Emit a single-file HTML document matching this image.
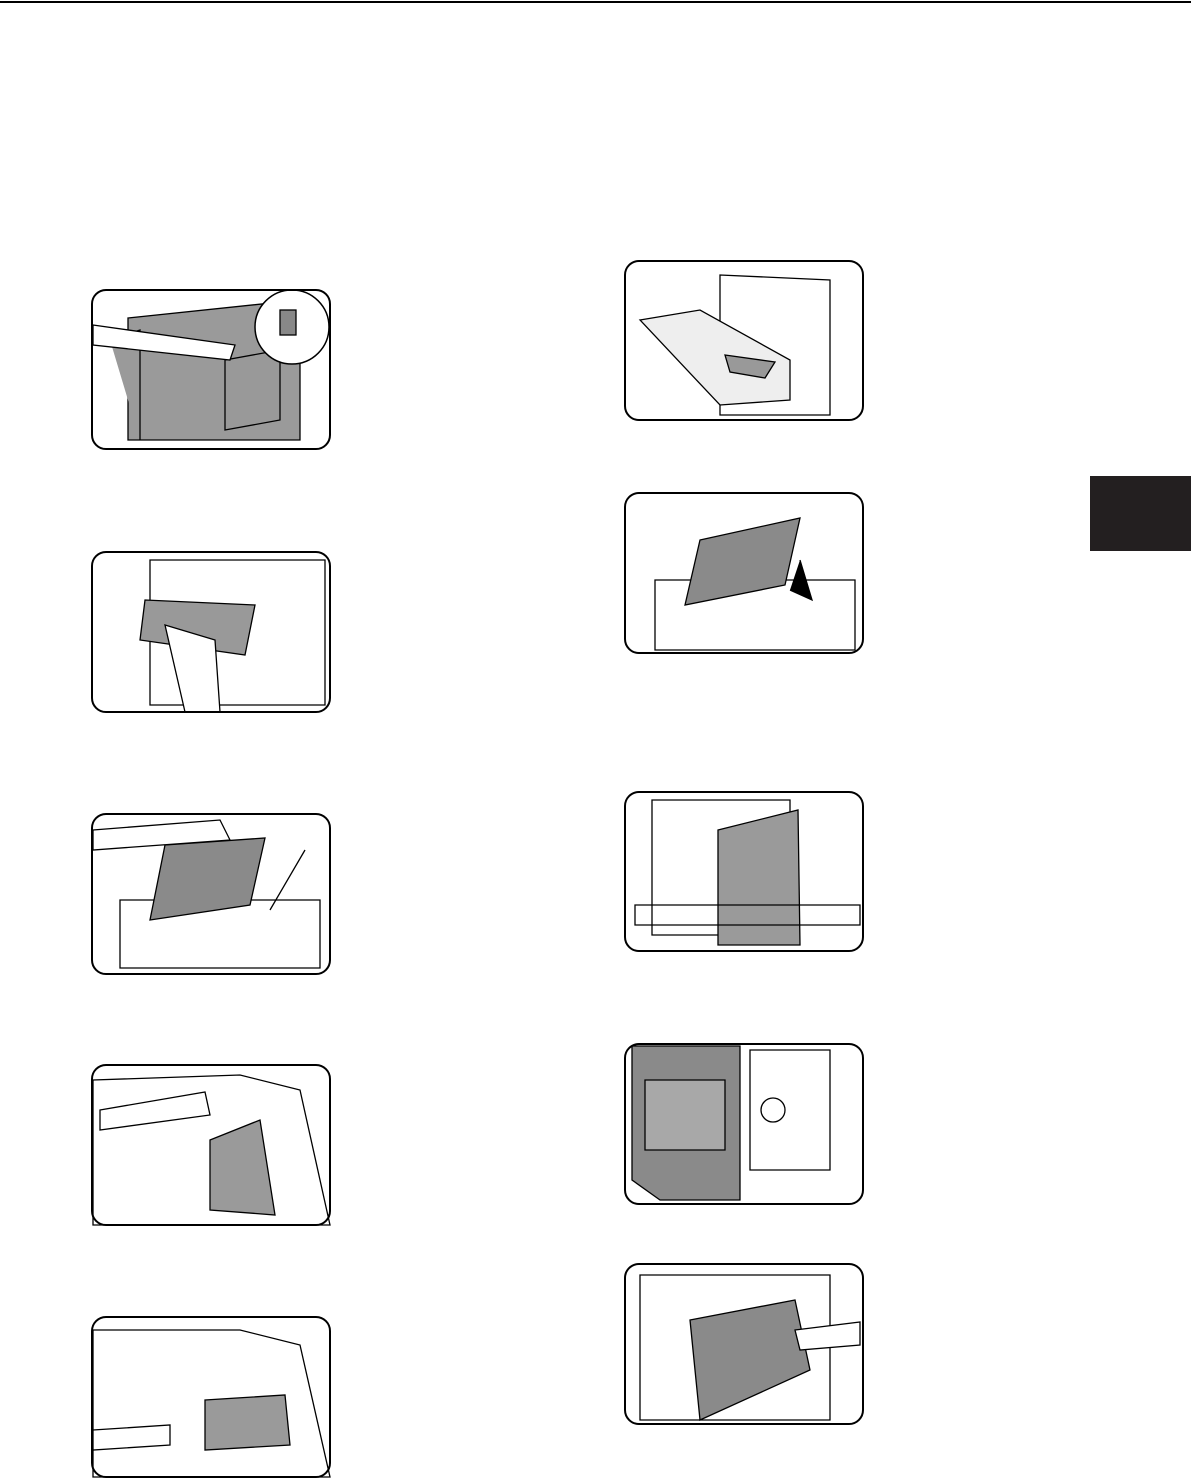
<!DOCTYPE html>
<html><head><meta charset="utf-8"><style>
html,body{margin:0;padding:0;background:#fff}
body{width:1191px;height:1479px;position:relative;overflow:hidden;font-family:"Liberation Sans",sans-serif}
</style></head><body>
<svg width="1191" height="1479" viewBox="0 0 1191 1479" xmlns="http://www.w3.org/2000/svg" style="position:absolute;left:0;top:0">
<line x1="0" y1="2" x2="1191" y2="2" stroke="#000" stroke-width="2"/>
<rect x="1090" y="476" width="101" height="75" fill="#231f20"/>
<g fill="none" stroke="#000" stroke-width="1.3">
<!-- L1 -->
<path d="M128 318 L300 300 L300 440 L128 440Z" fill="#9a9a9a"/>
<path d="M110 340 L140 330 L140 440" fill="#9a9a9a"/>
<path d="M225 360 L280 350 L280 420 L225 430Z" fill="#999"/>
<circle cx="292" cy="327" r="37" fill="#fff" stroke-width="1.5"/>
<rect x="280" y="310" width="16" height="25" fill="#888"/>
<path d="M93 325 L235 345 L230 360 L93 345Z" fill="#fff"/>
<!-- L2 -->
<path d="M150 560 L325 560 L325 705 L150 705Z"/>
<path d="M145 600 L255 605 L245 655 L140 640Z" fill="#999"/>
<path d="M165 625 L215 640 L220 712 L185 712Z" fill="#fff"/>
<!-- L3 -->
<path d="M120 900 L320 900 L320 968 L120 968Z"/>
<path d="M165 845 L265 838 L250 905 L150 920Z" fill="#8a8a8a"/>
<path d="M93 830 L220 820 L230 840 L93 850Z" fill="#fff"/>
<line x1="270" y1="910" x2="305" y2="850"/>
<!-- L4 -->
<path d="M93 1080 L240 1075 L300 1090 L330 1225 L93 1225Z"/>
<path d="M210 1140 L260 1120 L275 1215 L210 1210Z" fill="#9a9a9a"/>
<path d="M100 1110 L205 1092 L210 1115 L100 1130Z" fill="#fff"/>
<!-- L5 -->
<path d="M93 1330 L240 1330 L300 1345 L330 1477 L93 1477Z"/>
<path d="M205 1400 L285 1395 L290 1445 L205 1450Z" fill="#9a9a9a"/>
<path d="M93 1430 L170 1425 L170 1445 L93 1450Z" fill="#fff"/>
<!-- R1 -->
<path d="M720 275 L830 280 L830 415 L720 415Z"/>
<path d="M640 320 L700 310 L790 360 L790 400 L720 405Z" fill="#eee"/>
<path d="M725 355 L775 362 L765 378 L730 372Z" fill="#999"/>
<!-- R2 -->
<path d="M655 580 L855 580 L855 650 L655 650Z"/>
<path d="M700 540 L800 518 L785 585 L685 605Z" fill="#8a8a8a"/>
<path d="M800 560 L812 600 L790 590" fill="#000"/>
<!-- R3 -->
<path d="M652 800 L790 800 L790 935 L652 935Z"/>
<path d="M718 830 L798 810 L800 945 L718 945Z" fill="#9a9a9a"/>
<path d="M635 905 L860 905 L860 925 L635 925Z"/>
<!-- R4 -->
<path d="M632 1046 L740 1046 L740 1200 L660 1200 L632 1180Z" fill="#8a8a8a"/>
<path d="M645 1080 L725 1080 L725 1150 L645 1150Z" fill="#a8a8a8"/>
<path d="M750 1050 L830 1050 L830 1170 L750 1170Z"/>
<circle cx="773" cy="1110" r="12"/>
<!-- R5 -->
<path d="M640 1275 L830 1275 L830 1420 L640 1420Z"/>
<path d="M690 1320 L795 1300 L810 1370 L700 1420Z" fill="#8a8a8a"/>
<path d="M795 1330 L860 1322 L860 1345 L800 1350Z" fill="#fff"/>
</g>
<g fill="none" stroke="#000" stroke-width="2">
<rect x="92" y="290" width="238" height="159" rx="14"/>
<rect x="92" y="552" width="238" height="160" rx="14"/>
<rect x="92" y="814" width="238" height="160" rx="14"/>
<rect x="92" y="1065" width="238" height="160" rx="14"/>
<rect x="92" y="1317" width="238" height="160" rx="14"/>
<rect x="625" y="261" width="238" height="159" rx="14"/>
<rect x="625" y="493" width="238" height="160" rx="14"/>
<rect x="625" y="792" width="238" height="159" rx="14"/>
<rect x="625" y="1044" width="238" height="160" rx="14"/>
<rect x="625" y="1264" width="238" height="160" rx="14"/>
</g>
</svg>
</body></html>
